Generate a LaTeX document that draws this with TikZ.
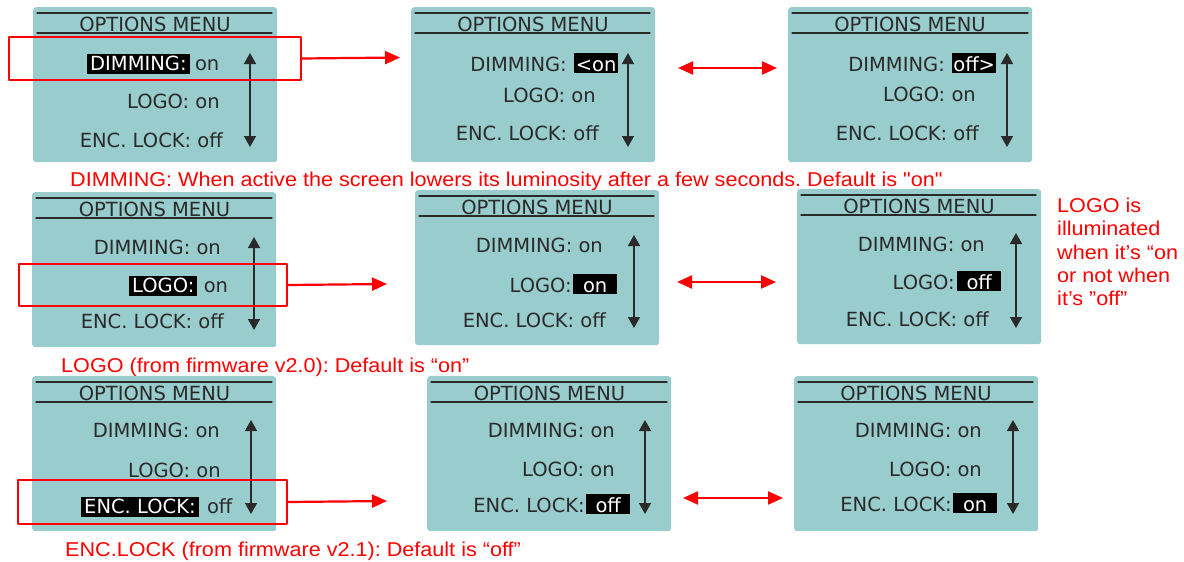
\documentclass[tikz,border=0pt]{standalone}
\usepackage{fontspec}
\setmainfont{DejaVu Sans}
\newfontfamily\notefont[FakeStretch=1.08]{Liberation Sans}
\usetikzlibrary{arrows.meta}
\definecolor{lcdbg}{RGB}{153,204,204}
\definecolor{lcdink}{RGB}{42,42,42}
\frenchspacing

\begin{document}
\begin{tikzpicture}[x=1pt,y=-1pt,line cap=round,line join=round,
  panel/.style={fill=lcdbg,rounded corners=3pt,minimum width=244pt,minimum height=155pt,inner sep=0pt,anchor=north west},
  rule/.style={draw=lcdink,line width=1.2pt},
  item/.style={font=\fontsize{19.5}{22}\selectfont,text=lcdink,inner sep=0pt},
  hlab/.style={item,fill=black,text=white,inner xsep=3pt,text height=16pt,text depth=4pt},
  valbox/.style={item,fill=black,text=white,minimum width=44pt,text height=18pt,text depth=2pt},
  scroll/.style={lcdink,line width=1.5pt,{Triangle[length=11pt,width=12pt]}-{Triangle[length=11pt,width=12pt]}},
  selbox/.style={draw=red,line width=2pt,line cap=butt,inner sep=0pt,anchor=north west},
  redarrow/.style={red,line width=2.2pt,line cap=butt,-{Triangle[length=15pt,width=13pt]}},
  redboth/.style={red,line width=2.2pt,line cap=butt,{Triangle[length=15pt,width=13pt]}-{Triangle[length=15pt,width=13pt]}},
  note/.style={font=\notefont\fontsize{20}{23.3}\selectfont,text=red,inner sep=0pt}]
  \useasboundingbox (0,0) rectangle (1184,562);

  % row 1: dimming
  \node[panel] (pA1) at (33,7) {};
  \draw[rule] (37,13) -- (272,13);
  \draw[rule] (37,33) -- (272,33);
  \node[item,anchor=base] (tA1) at (155,31) {OPTIONS MENU};
  \node[hlab,anchor=base west] (dA1) at (87,70) {DIMMING:};
  \node[item,anchor=base west] (dvA1) at ([xshift=5pt]dA1.base east) {on};
  \node[item,anchor=base east] (lA1) at (220,108) {LOGO: on};
  \node[item,anchor=base east] (eA1) at (223,147) {ENC. LOCK: off};
  \draw[scroll] (250,53) -- (250,147);

  \node[panel] (pB1) at (411,7) {};
  \draw[rule] (415,13) -- (650,13);
  \draw[rule] (415,33) -- (650,33);
  \node[item,anchor=base] (tB1) at (533,31) {OPTIONS MENU};
  \node[valbox,anchor=base west] (dvB1) at (574,71) {<on};
  \node[item,anchor=base east] (dB1) at ([xshift=-7pt]dvB1.base west) {DIMMING:};
  \node[item,anchor=base east] (lB1) at (596,102) {LOGO: on};
  \node[item,anchor=base east] (eB1) at (599,140) {ENC. LOCK: off};
  \draw[scroll] (628,53) -- (628,147);

  \node[panel] (pC1) at (788,7) {};
  \draw[rule] (792,13) -- (1028,13);
  \draw[rule] (792,33) -- (1028,33);
  \node[item,anchor=base] (tC1) at (910,31) {OPTIONS MENU};
  \node[valbox,anchor=base west] (dvC1) at (952,71) {off>};
  \node[item,anchor=base east] (dC1) at ([xshift=-7pt]dvC1.base west) {DIMMING:};
  \node[item,anchor=base east] (lC1) at (976,101) {LOGO: on};
  \node[item,anchor=base east] (eC1) at (979,140) {ENC. LOCK: off};
  \draw[scroll] (1007,53) -- (1007,147);

  \node[selbox,minimum width=292pt,minimum height=43pt] (sA1) at (8,36) {};
  \coordinate (gA1) at (400,57.5);
  \draw[redarrow] (sA1.east) -- (gA1);
  \coordinate (lr1) at (678,68);
  \coordinate (rr1) at (777,68);
  \draw[redboth] (lr1) -- (rr1);
  \node[note,anchor=base west] (nA1) at (70,186) {DIMMING: When active the screen lowers its luminosity after a few seconds. Default is "on"};

  % row 2: logo
  \node[panel] (pA2) at (32,192) {};
  \draw[rule] (36,198) -- (272,198);
  \draw[rule] (36,218) -- (272,218);
  \node[item,anchor=base] (tA2) at (154.5,216) {OPTIONS MENU};
  \node[item,anchor=base east] (dA2) at (221,254) {DIMMING: on};
  \node[hlab,anchor=base west] (lA2) at (129,292) {LOGO:};
  \node[item,anchor=base west] (lvA2) at ([xshift=6pt]lA2.base east) {on};
  \node[item,anchor=base east] (eA2) at (224,328) {ENC. LOCK: off};
  \draw[scroll] (254,237) -- (254,330);

  \node[panel] (pB2) at (415,190) {};
  \draw[rule] (419,196) -- (654,196);
  \draw[rule] (419,216) -- (654,216);
  \node[item,anchor=base] (tB2) at (537,214) {OPTIONS MENU};
  \node[item,anchor=base east] (dB2) at (603,252) {DIMMING: on};
  \node[valbox,anchor=base west] (lvB2) at (573,292) {on};
  \node[item,anchor=base east] (lB2) at ([xshift=-1pt]lvB2.base west) {LOGO:};
  \node[item,anchor=base east] (eB2) at (606,327) {ENC. LOCK: off};
  \draw[scroll] (634,235) -- (634,328);

  \node[panel] (pC2) at (797,189) {};
  \draw[rule] (801,195) -- (1036,195);
  \draw[rule] (801,215) -- (1036,215);
  \node[item,anchor=base] (tC2) at (919,213) {OPTIONS MENU};
  \node[item,anchor=base east] (dC2) at (985,251) {DIMMING: on};
  \node[valbox,anchor=base west] (lvC2) at (957,289) {off};
  \node[item,anchor=base east] (lC2) at ([xshift=-2pt]lvC2.base west) {LOGO:};
  \node[item,anchor=base east] (eC2) at (989,326) {ENC. LOCK: off};
  \draw[scroll] (1016,233) -- (1016,328);

  \node[selbox,minimum width=268pt,minimum height=42pt] (sA2) at (18,263) {};
  \coordinate (gA2) at (387,284);
  \draw[redarrow] (sA2.east) -- (gA2);
  \coordinate (lr2) at (677,282);
  \coordinate (rr2) at (776,282);
  \draw[redboth] (lr2) -- (rr2);
  \node[note,anchor=base west] (nA2) at (61,372) {LOGO (from firmware v2.0): Default is “on”};
  \node[note,anchor=north west,align=left] (nC2) at (1057,198) {LOGO is\\illuminated\\when it’s “on\\or not when\\it’s ”off”};

  % row 3: encoder lock
  \node[panel] (pA3) at (32,376) {};
  \draw[rule] (36,382) -- (272,382);
  \draw[rule] (36,402) -- (272,402);
  \node[item,anchor=base] (tA3) at (154.5,400) {OPTIONS MENU};
  \node[item,anchor=base east] (dA3) at (220,437) {DIMMING: on};
  \node[item,anchor=base east] (lA3) at (221,477) {LOGO: on};
  \node[hlab,anchor=base west] (eA3) at (81,513) {ENC. LOCK:};
  \node[item,anchor=base west] (evA3) at ([xshift=8pt]eA3.base east) {off};
  \draw[scroll] (251,420) -- (251,514);

  \node[panel] (pB3) at (427,376) {};
  \draw[rule] (431,382) -- (667,382);
  \draw[rule] (431,402) -- (667,402);
  \node[item,anchor=base] (tB3) at (549.5,400) {OPTIONS MENU};
  \node[item,anchor=base east] (dB3) at (615,437) {DIMMING: on};
  \node[item,anchor=base east] (lB3) at (615,476) {LOGO: on};
  \node[valbox,anchor=base west] (evB3) at (586,512) {off};
  \node[item,anchor=base east] (eB3) at ([xshift=-1pt]evB3.base west) {ENC. LOCK:};
  \draw[scroll] (645,420) -- (645,514);

  \node[panel] (pC3) at (794,376) {};
  \draw[rule] (798,382) -- (1033,382);
  \draw[rule] (798,402) -- (1033,402);
  \node[item,anchor=base] (tC3) at (916,400) {OPTIONS MENU};
  \node[item,anchor=base east] (dC3) at (982,437) {DIMMING: on};
  \node[item,anchor=base east] (lC3) at (982,476) {LOGO: on};
  \node[valbox,anchor=base west] (evC3) at (953,511) {on};
  \node[item,anchor=base east] (eC3) at ([xshift=-1pt]evC3.base west) {ENC. LOCK:};
  \draw[scroll] (1013,420) -- (1013,514);

  \node[selbox,minimum width=269pt,minimum height=44pt] (sA3) at (17,479) {};
  \coordinate (gA3) at (387,501);
  \draw[redarrow] (sA3.east) -- (gA3);
  \coordinate (lr3) at (683,498);
  \coordinate (rr3) at (783,498);
  \draw[redboth] (lr3) -- (rr3);
  \node[note,anchor=base west] (nA3) at (65,556) {ENC.LOCK (from firmware v2.1): Default is “off”};
\end{tikzpicture}
\end{document}
